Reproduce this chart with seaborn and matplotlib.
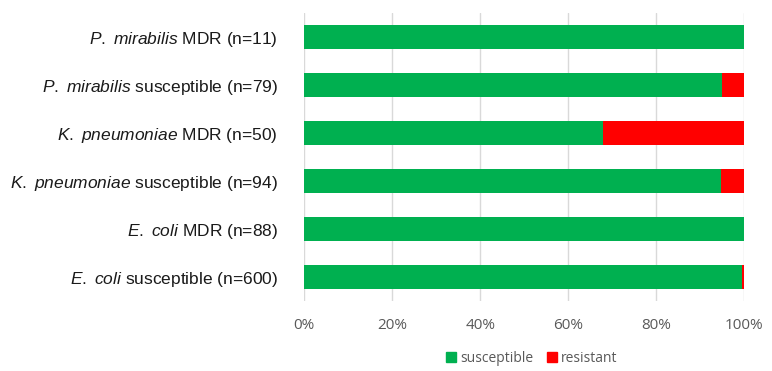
import pandas as pd
import seaborn as sns
import matplotlib.pyplot as plt
from matplotlib.patches import Patch

# Data (percent of isolates)
groups = [
    r"$\it{P.\ mirabilis}$ MDR (n=11)",
    r"$\it{P.\ mirabilis}$ susceptible (n=79)",
    r"$\it{K.\ pneumoniae}$ MDR (n=50)",
    r"$\it{K.\ pneumoniae}$ susceptible (n=94)",
    r"$\it{E.\ coli}$ MDR (n=88)",
    r"$\it{E.\ coli}$ susceptible (n=600)",
]
susceptible = [100.0, 94.9, 68.0, 94.7, 100.0, 99.5]
resistant = [0.0, 5.1, 32.0, 5.3, 0.0, 0.5]

green = "#00B050"
red = "#FF0000"

df = pd.DataFrame({"group": groups, "susceptible": susceptible, "resistant": resistant})
df["total"] = df["susceptible"] + df["resistant"]

sns.set_style("white")
plt.rcParams["font.family"] = ["Liberation Sans", "DejaVu Sans"]
plt.rcParams["mathtext.fontset"] = "custom"
plt.rcParams["mathtext.rm"] = "Liberation Sans"
plt.rcParams["mathtext.it"] = "Liberation Sans:italic"

fig = plt.figure(figsize=(7.72, 3.71), dpi=100)
ax = fig.add_axes([0.394, 0.189, 0.570, 0.776])

# red = full stack, green drawn over it
sns.barplot(data=df, y="group", x="total", color=red, width=0.5, saturation=1,
            linewidth=0, ax=ax, zorder=2)
sns.barplot(data=df, y="group", x="susceptible", color=green, width=0.5, saturation=1,
            linewidth=0, ax=ax, zorder=3)

ax.set_xlim(0, 100)
ax.set_xticks([0, 20, 40, 60, 80, 100])
ax.set_xticklabels([f"{t}%" for t in [0, 20, 40, 60, 80, 100]],
                   family="Open Sans", fontsize=11, color="#595959")
ax.tick_params(axis="x", length=0, pad=12)
ax.tick_params(axis="y", length=0, pad=19, labelsize=12.5, labelcolor="#1a1a1a")
ax.set_xlabel("")
ax.set_ylabel("")
ax.grid(axis="x", color="#D9D9D9", linewidth=1, zorder=0)
ax.set_axisbelow(True)
for s in ax.spines.values():
    s.set_visible(False)

handles = [Patch(color=green, label="susceptible"), Patch(color=red, label="resistant")]
fig.legend(handles=handles, loc="center", bbox_to_anchor=(0.689, 0.035), ncol=2,
           frameon=False, handlelength=0.7, handleheight=0.7, handletextpad=0.3,
           columnspacing=1.0, prop={"family": "Open Sans", "size": 10},
           labelcolor="#595959")

fig.savefig("out.png", dpi=100)
